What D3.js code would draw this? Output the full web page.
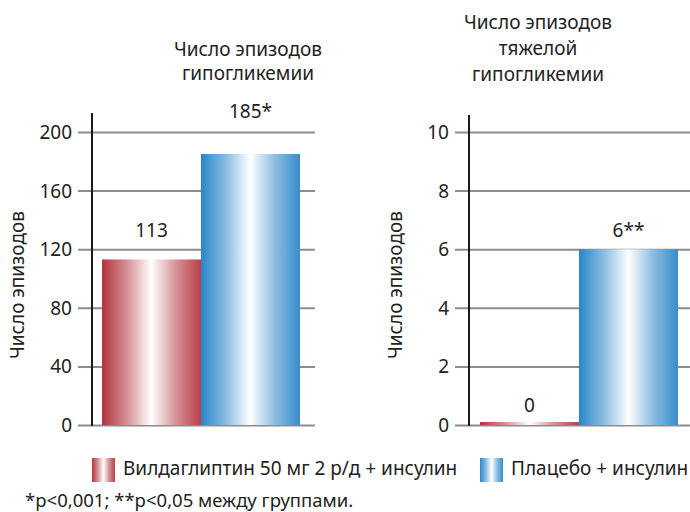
<!DOCTYPE html>
<html>
<head>
<meta charset="utf-8">
<script src="https://cdn.jsdelivr.net/npm/d3@7"></script>
<style>
  html, body { margin: 0; padding: 0; background: #fff; }
  svg { display: block; }
  text { font-family: "Noto Sans", "DejaVu Sans", sans-serif; fill: #222; }
</style>
</head>
<body>
<svg id="chart" width="690" height="512"></svg>
<script>
// Groups compared
const groups = ["Вилдаглиптин 50 мг 2 р/д + инсулин", "Плацебо + инсулин"];
const groupKeys = ["vild", "placebo"];

// Panel 1: all hypoglycaemia episodes
const allEpisodes = [113, 185];
const allLabels = ["113", "185*"];
const allTicks = [0, 40, 80, 120, 160, 200];
const allTitle = ["Число эпизодов", "гипогликемии"];

// Panel 2: severe hypoglycaemia episodes
const severeEpisodes = [0, 6];
const severeLabels = ["0", "6**"];
const severeTicks = [0, 2, 4, 6, 8, 10];
const severeTitle = ["Число эпизодов", "тяжелой", "гипогликемии"];

const yTitle = "Число эпизодов";
const footnote = "*p<0,001; **p<0,05 между группами.";

const colors = { vild: "#b3343d", placebo: "#2a86c9" };

const svg = d3.select("#chart");
const defs = svg.append("defs");

// Horizontal "cylinder" gradients: dark edges, white centre
function makeGradient(id, c) {
  const g = defs.append("linearGradient").attr("id", id)
    .attr("x1", "0%").attr("x2", "100%").attr("y1", "0%").attr("y2", "0%");
  const light = d3.interpolateRgb(c, "#fff");
  g.append("stop").attr("offset", "0%").attr("stop-color", c);
  g.append("stop").attr("offset", "25%").attr("stop-color", light(0.45));
  g.append("stop").attr("offset", "50%").attr("stop-color", "#ffffff");
  g.append("stop").attr("offset", "75%").attr("stop-color", light(0.45));
  g.append("stop").attr("offset", "100%").attr("stop-color", light(0.06));
}
makeGradient("grad-vild", colors.vild);
makeGradient("grad-placebo", colors.placebo);

const yBottom = 425, yTop = 132;

function panel(opts) {
  const g = svg.append("g");
  const y = d3.scaleLinear().domain([0, opts.ticks[opts.ticks.length - 1]]).range([yBottom, yTop]);
  const x = d3.scaleBand().domain(groupKeys).range(opts.barRange).padding(0);
  const barTop = d => Math.min(y(d), yBottom - 3);

  // gridlines with tick stubs
  const axis = d3.axisLeft(y).tickValues(opts.ticks)
    .tickSize(-(opts.gridEnd - opts.gridStart)).tickPadding(6).tickFormat(d3.format("d"));
  const ag = g.append("g").attr("transform", `translate(${opts.gridStart},0)`).call(axis);
  ag.select(".domain").remove();
  ag.selectAll(".tick line").attr("stroke", "#8c8c8c").attr("stroke-width", 2);
  ag.selectAll(".tick text").attr("font-size", 19).attr("fill", "#222")
    .attr("dy", "0.34em");

  // bars
  g.selectAll("rect.bar").data(opts.values).join("rect")
    .attr("class", "bar")
    .attr("x", (d, i) => x(groupKeys[i]))
    .attr("width", x.bandwidth())
    .attr("y", barTop)
    .attr("height", d => yBottom - barTop(d))
    .attr("fill", (d, i) => `url(#grad-${groupKeys[i]})`);

  // vertical axis line
  g.append("line").attr("x1", opts.axisX).attr("x2", opts.axisX)
    .attr("y1", opts.axisTop).attr("y2", yBottom + 1)
    .attr("stroke", "#1a1a1a").attr("stroke-width", 2);

  // value labels
  g.selectAll("text.val").data(opts.values).join("text")
    .attr("class", "val")
    .attr("x", (d, i) => x(groupKeys[i]) + x.bandwidth() / 2)
    .attr("y", (d, i) => barTop(d) - opts.labelGap[i])
    .attr("text-anchor", "middle").attr("font-size", 19)
    .text((d, i) => opts.labels[i]);

  // panel title
  g.selectAll("text.title").data(opts.title).join("text")
    .attr("class", "title")
    .attr("x", opts.titleX)
    .attr("y", (d, i) => opts.titleY + i * opts.titleStep)
    .attr("text-anchor", "middle").attr("font-size", 19)
    .text(d => d);

  // y axis title
  g.append("text")
    .attr("transform", `translate(${opts.yTitleX},285) rotate(-90)`)
    .attr("text-anchor", "middle").attr("font-size", 19)
    .text(yTitle);
}

panel({
  values: allEpisodes, labels: allLabels, ticks: allTicks, title: allTitle,
  barRange: [102, 300], gridStart: 78, gridEnd: 315, axisX: 92, axisTop: 113,
  titleX: 248, titleY: 56, titleStep: 24, yTitleX: 24, labelGap: [22, 36]
});

panel({
  values: severeEpisodes, labels: severeLabels, ticks: severeTicks, title: severeTitle,
  barRange: [480, 678], gridStart: 455, gridEnd: 690, axisX: 469, axisTop: 115,
  titleX: 538, titleY: 29, titleStep: 26, yTitleX: 402, labelGap: [10, 12]
});

// legend
const legendItems = [
  { key: "vild", label: groups[0], x: 92 },
  { key: "placebo", label: groups[1], x: 480 }
];
const lg = svg.append("g");
legendItems.forEach(it => {
  lg.append("rect").attr("x", it.x).attr("y", 458).attr("width", 23).attr("height", 24)
    .attr("fill", `url(#grad-${it.key})`);
  lg.append("text").attr("x", it.x + 31).attr("y", 475).attr("font-size", 19).text(it.label);
});

// footnote
svg.append("text").attr("x", 25).attr("y", 507).attr("font-size", 18.5).text(footnote);
</script>
</body>
</html>
